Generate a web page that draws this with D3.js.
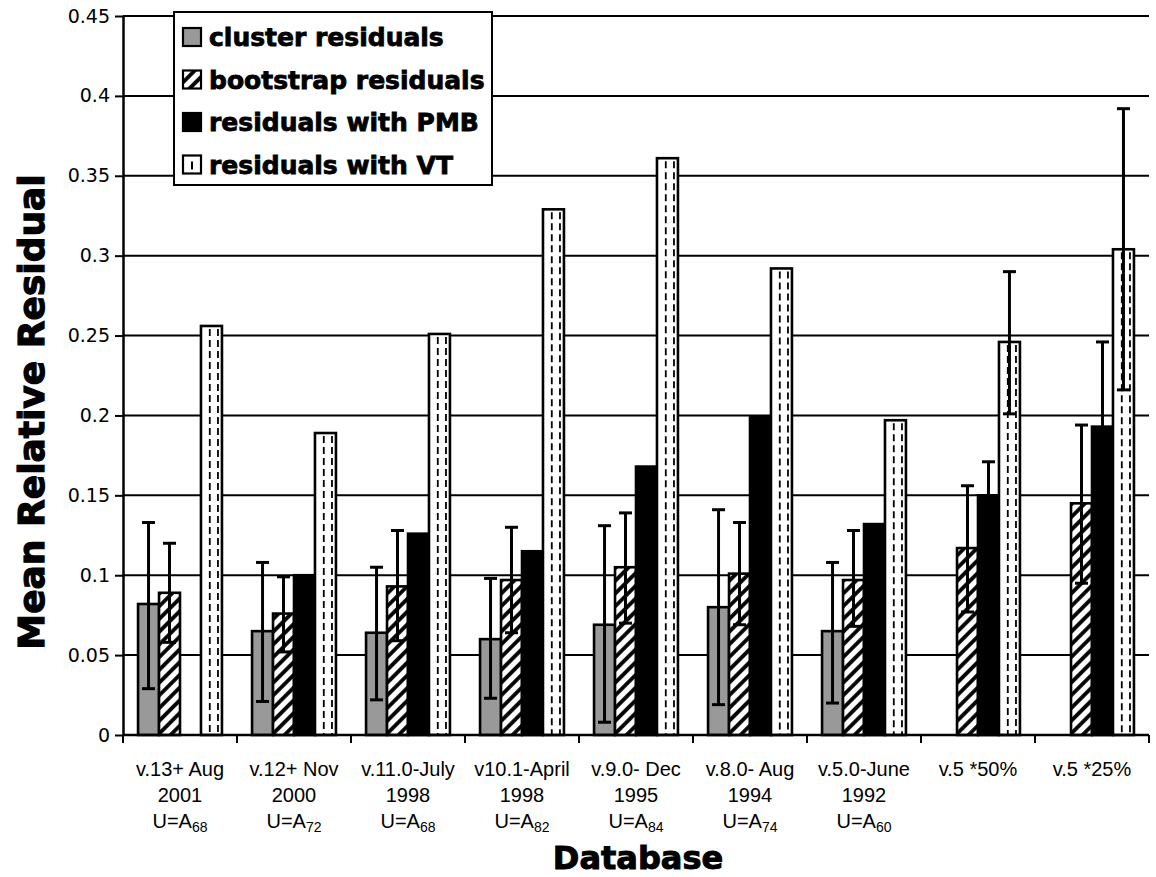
<!DOCTYPE html>
<html>
<head>
<meta charset="utf-8">
<script src="https://cdn.jsdelivr.net/npm/d3@7"></script>
<style>
  body { margin: 0; background: #fff; }
  svg { display: block; }
</style>
</head>
<body>
<div id="chart"></div>
<script>
// category labels: three lines, last one has a subscript
const catLine1 = ["v.13+ Aug", "v.12+ Nov", "v.11.0-July", "v10.1-April", "v.9.0- Dec", "v.8.0- Aug", "v.5.0-June", "v.5 *50%", "v.5 *25%"];
const catLine2 = ["2001", "2000", "1998", "1998", "1995", "1994", "1992", "", ""];
const catSub = ["68", "72", "68", "82", "84", "74", "60", null, null];

const seriesNames = ["cluster residuals", "bootstrap residuals", "residuals with PMB", "residuals with VT"];

const clusterVal = [0.082, 0.065, 0.064, 0.060, 0.069, 0.080, 0.065, null, null];
const clusterLo  = [0.029, 0.021, 0.022, 0.023, 0.008, 0.019, 0.020, null, null];
const clusterHi  = [0.133, 0.108, 0.105, 0.098, 0.131, 0.141, 0.108, null, null];

const bootVal = [0.089, 0.076, 0.093, 0.097, 0.105, 0.101, 0.097, 0.117, 0.145];
const bootLo  = [0.058, 0.052, 0.059, 0.064, 0.070, 0.069, 0.068, 0.077, 0.095];
const bootHi  = [0.120, 0.099, 0.128, 0.130, 0.139, 0.133, 0.128, 0.156, 0.194];

const pmbVal = [null, 0.100, 0.126, 0.115, 0.168, 0.199, 0.132, 0.150, 0.193];
const pmbLo  = [null, null, null, null, null, null, null, 0.129, 0.141];
const pmbHi  = [null, null, null, null, null, null, null, 0.171, 0.246];

const vtVal = [0.256, 0.189, 0.251, 0.329, 0.361, 0.292, 0.197, 0.246, 0.304];
const vtLo  = [null, null, null, null, null, null, null, 0.201, 0.216];
const vtHi  = [null, null, null, null, null, null, null, 0.290, 0.392];

const yTicks = [0, 0.05, 0.1, 0.15, 0.2, 0.25, 0.3, 0.35, 0.4, 0.45];

const series = [
  { key: seriesNames[0], val: clusterVal, lo: clusterLo, hi: clusterHi },
  { key: seriesNames[1], val: bootVal, lo: bootLo, hi: bootHi },
  { key: seriesNames[2], val: pmbVal, lo: pmbLo, hi: pmbHi },
  { key: seriesNames[3], val: vtVal, lo: vtLo, hi: vtHi }
];

const W = 1156, H = 877;
const margin = { top: 16, right: 7, bottom: 142, left: 123 };
const width = W - margin.left - margin.right,
      height = H - margin.top - margin.bottom;

const svg = d3.select("#chart").append("svg")
    .attr("width", W)
    .attr("height", H);

const defs = svg.append("defs");
defs.append("pattern")
    .attr("id", "hatch")
    .attr("patternUnits", "userSpaceOnUse")
    .attr("width", 9).attr("height", 9)
    .attr("patternTransform", "rotate(45)")
  .call(p => {
    p.append("rect").attr("width", 9).attr("height", 9).attr("fill", "#fff");
    p.append("line").attr("x1", 2).attr("x2", 2).attr("y1", 0).attr("y2", 9)
      .attr("stroke", "#000").attr("stroke-width", 3.8);
  });

const g = svg.append("g")
    .attr("transform", `translate(${margin.left},${margin.top})`);

const x0 = d3.scaleBand()
    .domain(d3.range(catLine1.length))
    .range([0, width])
    .padding(0);

const x1 = d3.scaleBand()
    .domain(seriesNames)
    .range([x0.bandwidth() * 0.132, x0.bandwidth() * 0.868]);

const y = d3.scaleLinear()
    .domain([0, 0.45])
    .range([height, 0]);

// gridlines
g.append("g")
  .selectAll("line")
  .data(yTicks.filter(t => t > 0))
  .enter().append("line")
    .attr("x1", 0).attr("x2", width)
    .attr("y1", d => y(d)).attr("y2", d => y(d))
    .attr("stroke", "#000").attr("stroke-width", 2);

const fills = ["#999999", "url(#hatch)", "#000000", "#ffffff"];

const groups = g.selectAll(".grp")
  .data(d3.range(catLine1.length))
  .enter().append("g")
    .attr("class", "grp")
    .attr("transform", i => `translate(${x0(i)},0)`);

// bars
groups.each(function(i) {
  const gg = d3.select(this);
  series.forEach((s, si) => {
    const v = s.val[i];
    if (v == null) return;
    const bx = x1(s.key), bw = x1.bandwidth();
    gg.append("rect")
      .attr("x", bx).attr("y", y(v))
      .attr("width", bw).attr("height", y(0) - y(v))
      .attr("fill", fills[si])
      .attr("stroke", "#000").attr("stroke-width", 2.6);
    if (si === 3) {
      [0.42, 0.81].forEach(f => {
        gg.append("line")
          .attr("x1", bx + bw * f).attr("x2", bx + bw * f)
          .attr("y1", y(v) + 3).attr("y2", y(0))
          .attr("stroke", "#000").attr("stroke-width", 1.8)
          .attr("stroke-dasharray", "7,4");
      });
    }
  });
});

// error bars
groups.each(function(i) {
  const gg = d3.select(this);
  series.forEach(s => {
    if (s.val[i] == null || s.lo[i] == null) return;
    const cx = x1(s.key) + x1.bandwidth() / 2;
    const cap = 6.5;
    gg.append("line")
      .attr("x1", cx).attr("x2", cx)
      .attr("y1", y(s.lo[i])).attr("y2", y(s.hi[i]))
      .attr("stroke", "#000").attr("stroke-width", 3);
    [s.lo[i], s.hi[i]].forEach(v => {
      gg.append("line")
        .attr("x1", cx - cap).attr("x2", cx + cap)
        .attr("y1", y(v)).attr("y2", y(v))
        .attr("stroke", "#000").attr("stroke-width", 3);
    });
  });
});

// y axis
const yAxis = g.append("g")
    .call(d3.axisLeft(y).tickValues(yTicks).tickSize(8).tickSizeOuter(0)
      .tickFormat(d => d === 0 ? "0" : String(+d.toFixed(2))));
yAxis.select(".domain").attr("stroke-width", 2.5);
yAxis.selectAll(".tick line").attr("stroke-width", 2);
yAxis.selectAll(".tick text")
    .attr("x", -13)
    .attr("font-family", "'DejaVu Sans', sans-serif")
    .attr("font-size", 19)
    .attr("fill", "#000");

// x axis with ticks at group boundaries
g.append("line")
    .attr("x1", 0).attr("x2", width)
    .attr("y1", height).attr("y2", height)
    .attr("stroke", "#000").attr("stroke-width", 2.5);
g.append("g")
  .selectAll("line")
  .data(d3.range(catLine1.length + 1))
  .enter().append("line")
    .attr("x1", i => i < catLine1.length ? x0(i) : width)
    .attr("x2", i => i < catLine1.length ? x0(i) : width)
    .attr("y1", height).attr("y2", height + 8)
    .attr("stroke", "#000").attr("stroke-width", 2);

// category labels
const labels = g.append("g")
    .attr("font-family", "'Liberation Sans', Arial, sans-serif")
    .attr("font-size", 20)
    .attr("text-anchor", "middle")
    .attr("fill", "#000");
d3.range(catLine1.length).forEach(i => {
  const cx = x0(i) + x0.bandwidth() / 2;
  labels.append("text").attr("x", cx).attr("y", height + 41).text(catLine1[i]);
  if (catLine2[i]) labels.append("text").attr("x", cx).attr("y", height + 67).text(catLine2[i]);
  if (catSub[i]) {
    const t = labels.append("text").attr("x", cx).attr("y", height + 93);
    t.append("tspan").text("U=A");
    t.append("tspan").attr("font-size", 14).attr("dy", 4).text(catSub[i]);
  }
});

// axis titles
svg.append("text")
    .attr("x", margin.left + width / 2 + 2)
    .attr("y", 869)
    .attr("text-anchor", "middle")
    .attr("font-family", "'DejaVu Sans', sans-serif")
    .attr("font-weight", "bold")
    .attr("font-size", 32)
    .attr("stroke", "#000").attr("stroke-width", 1)
    .text("Database");

svg.append("text")
    .attr("transform", "translate(44,412) rotate(-90)")
    .attr("text-anchor", "middle")
    .attr("font-family", "'DejaVu Sans', sans-serif")
    .attr("font-weight", "bold")
    .attr("font-size", 36)
    .attr("stroke", "#000").attr("stroke-width", 1.2)
    .text("Mean Relative Residual");

// legend
const leg = svg.append("g").attr("transform", "translate(174,12)");
leg.append("rect")
    .attr("width", 318).attr("height", 173)
    .attr("fill", "#fff").attr("stroke", "#000").attr("stroke-width", 2);
seriesNames.forEach((name, si) => {
  const cy = 25 + si * 42.5;
  const row = leg.append("g").attr("transform", `translate(9,${cy})`);
  row.append("rect")
    .attr("x", 0).attr("y", -9).attr("width", 18).attr("height", 18)
    .attr("fill", fills[si]).attr("stroke", "#000").attr("stroke-width", 2.2);
  if (si === 3) {
    row.append("line").attr("x1", 9).attr("x2", 9).attr("y1", -3).attr("y2", 5)
      .attr("stroke", "#000").attr("stroke-width", 2);
  }
  row.append("text")
    .attr("x", 26).attr("y", 9)
    .attr("font-family", "'DejaVu Sans', sans-serif")
    .attr("font-weight", "bold")
    .attr("font-size", 25)
    .attr("stroke", "#000").attr("stroke-width", 0.8)
    .text(name);
});
</script>
</body>
</html>
